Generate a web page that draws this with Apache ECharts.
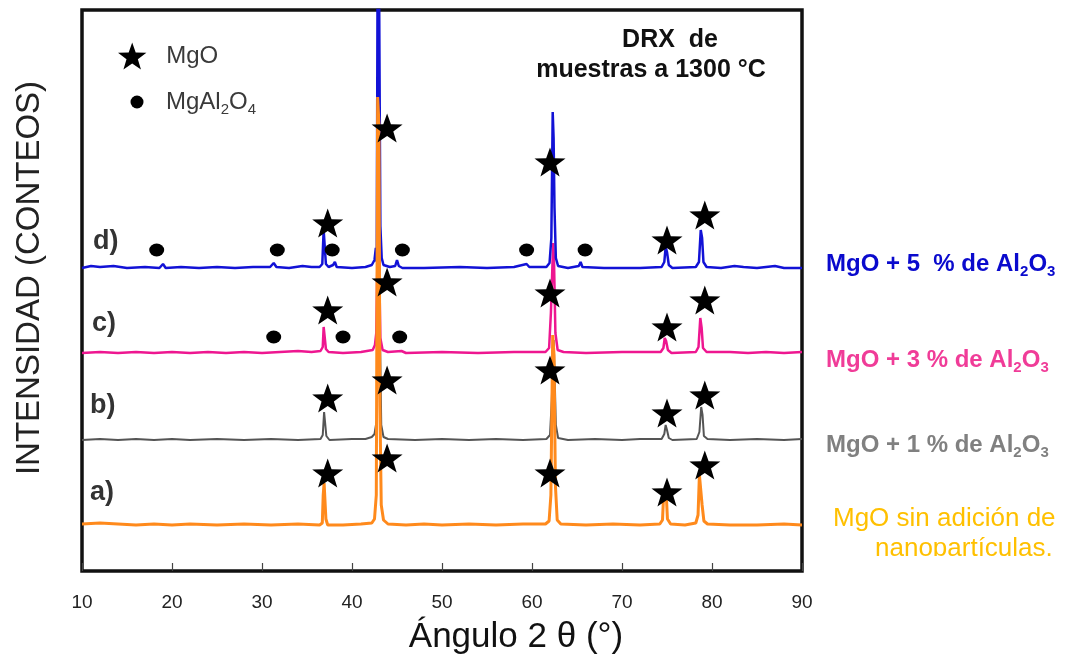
<!DOCTYPE html>
<html>
<head>
<meta charset="utf-8">
<script src="https://cdn.jsdelivr.net/npm/echarts@6/dist/echarts.min.js"></script>
<style>
html,body{margin:0;padding:0;background:#fff;}
#chart{width:1089px;height:660px;}
</style>
</head>
<body>
<div id="chart"></div>
<script>
// ---- axis ----
const xTicks = [10, 20, 30, 40, 50, 60, 70, 80, 90];
const yRange = [0, 561];

// ---- vertical offsets of each pattern (counts) ----
const traceNames = ['a) MgO', 'b) MgO + 1 %', 'c) MgO + 3 %', 'd) MgO + 5 %'];
const traceOffsets = [46, 131, 218, 303];
const traceColors = ['#FF8A1C', '#555555', '#EE1690', '#1212D6'];
const traceWidths = [3, 2, 2.5, 2.5];

// ---- patterns: [2θ, intensity above own baseline] ----
const traceA = [[10,1],[12,2],[14,1],[16,0],[18,1],[20,0],[22,1],[25,0],[28,1],[31,0],[34,1],[36.4,0],[36.7,2],[36.8,30],[36.9,42],[37.0,40],[37.1,6],[37.3,0],[39,0],[41,1],[42.2,2],[42.5,6],[42.7,30],[42.85,428],[43.0,400],[43.1,120],[43.25,20],[43.5,5],[44,1],[46,0],[48,1],[50,0],[53,1],[56,0],[59,1],[61.5,1],[61.9,4],[62.1,30],[62.3,190],[62.45,170],[62.6,40],[62.8,5],[63.2,1],[66,0],[69,1],[72,0],[74.2,1],[74.5,5],[74.65,35],[74.8,30],[74.9,34],[75.05,6],[75.4,1],[77,0],[78.2,2],[78.45,10],[78.6,50],[78.75,48],[78.9,20],[79.1,4],[79.5,1],[82,0],[85,0],[88,1],[90,0]];
const traceB = [[10,0],[12,1],[14,0],[16,1],[18,0],[20,1],[22,0],[25,1],[28,0],[31,1],[34,0],[36.5,1],[36.75,5],[36.9,28],[37.0,26],[37.15,4],[37.5,0],[40,1],[41.5,1],[42.2,3],[42.5,6],[42.75,20],[42.95,130],[43.1,110],[43.25,15],[43.5,3],[44,1],[47,0],[50,1],[53,0],[56,1],[59,0],[61.6,1],[62.0,5],[62.2,40],[62.4,100],[62.5,70],[62.65,15],[62.9,2],[64,0],[67,1],[70,0],[72,1],[74.4,1],[74.7,6],[74.85,15],[75.0,10],[75.2,2],[75.6,0],[78.3,1],[78.6,8],[78.8,33],[78.95,25],[79.1,4],[79.5,1],[82,0],[85,1],[88,0],[90,1]];
const traceC = [[10,0],[12,1],[14,0],[16,1],[18,0],[20,1],[22,0],[24,1],[26,0],[28,1],[30,0],[32,1],[34,2],[35.5,1],[36.5,2],[36.75,6],[36.85,26],[36.95,24],[37.1,4],[37.4,1],[39,0],[41,1],[42.3,3],[42.55,8],[42.7,20],[42.85,110],[43.0,100],[43.15,15],[43.4,3],[44,1],[45.5,2],[46,0],[50,1],[54,0],[58,1],[61.5,1],[61.9,5],[62.1,40],[62.35,110],[62.45,90],[62.6,20],[62.85,3],[63.5,1],[66,0],[70,1],[74.3,1],[74.6,5],[74.75,15],[74.9,12],[75.1,3],[75.5,0],[78.2,1],[78.5,6],[78.7,35],[78.85,25],[79.0,5],[79.4,1],[82,1],[84,0],[86,1],[88,0],[90,1]];
const traceD = [[10,0],[11,2],[12,1],[13.5,2],[15,0],[17,1],[18.6,0],[19.0,4],[19.3,0],[21,1],[23,0],[25,1],[27,0],[29,1],[30.9,1],[31.3,5],[31.6,1],[33,0],[34.5,2],[35.5,1],[36.4,1],[36.7,4],[36.85,38],[36.95,36],[37.1,4],[37.4,1],[37.9,3],[38.1,6],[38.3,1],[40,0],[41.5,1],[42.2,3],[42.5,8],[42.65,20],[42.75,6],[42.85,320],[43.0,300],[43.15,42],[43.3,10],[43.5,3],[44.2,1],[44.8,2],[45.0,8],[45.2,2],[45.6,0],[48,0],[52,1],[55,0],[58,1],[59.4,4],[59.7,1],[61.6,1],[61.95,5],[62.15,30],[62.3,156],[62.4,130],[62.5,60],[62.65,10],[62.9,2],[64,0],[65.2,2],[65.4,6],[65.6,1],[68,0],[72,0],[74.4,1],[74.7,6],[74.85,21],[75.0,16],[75.2,3],[75.6,0],[78.2,1],[78.55,6],[78.75,38],[78.9,30],[79.05,6],[79.4,1],[81,0],[82.5,2],[83.5,1],[85,0],[87,2],[88,0],[90,0]];
const traces = [traceA, traceB, traceC, traceD];

// ---- phase markers: [2θ, counts] ----
const mgoMarkers = [
  [37.3,348],[43.9,443],[62.0,409],[75.0,331],[79.2,356],
  [37.3,261],[43.9,289],[62.0,278],[75.0,244],[79.2,271],
  [37.3,173],[43.9,191],[62.0,201],[75.0,158],[79.2,176],
  [37.3,98],[43.9,113],[62.0,98],[75.0,79],[79.2,106]
];
const spinelMarkers = [
  [18.3,321],[31.7,321],[37.8,321],[45.6,321],[59.4,321],[65.9,321],
  [31.3,234],[39.0,234],[45.3,234]
];

const FONT = '"Liberation Sans", Arial, sans-serif';
const starPath = 'path://M0,-10 L2.35,-3.24 L9.51,-3.09 L3.8,1.24 L5.88,8.09 L0,4 L-5.88,8.09 L-3.8,1.24 L-9.51,-3.09 L-2.35,-3.24 Z';

const chart = echarts.init(document.getElementById('chart'), null, {renderer: 'canvas'});

// draw order: gray, pink, blue, orange (orange on top)
const drawOrder = [1, 2, 3, 0];
const lineSeries = drawOrder.map(i => ({
  name: traceNames[i],
  type: 'line',
  showSymbol: false,
  symbol: 'none',
  clip: true,
  animation: false,
  lineStyle: {color: traceColors[i], width: traceWidths[i]},
  itemStyle: {color: traceColors[i]},
  data: traces[i].map(p => [p[0], p[1] + traceOffsets[i]]),
  z: 2
}));

function subLabel(x, y, main, color, bold) {
  const fw = bold ? 'bold' : 'normal';
  return {
    type: 'text', x: x, y: y, z: 100,
    style: {
      text: '{b|' + main + 'Al}{s|2}{b|O}{s|3}',
      align: 'left', verticalAlign: 'middle',
      rich: {
        b: {fontSize: 24, fontWeight: fw, fontFamily: FONT, fill: color, lineHeight: 30},
        s: {fontSize: 15, fontWeight: fw, fontFamily: FONT, fill: color, lineHeight: 13, verticalAlign: 'bottom'}
      }
    }
  };
}

const option = {
  backgroundColor: '#ffffff',
  animation: false,
  grid: {left: 82, right: 287, top: 10, bottom: 89, show: true, borderColor: '#111', borderWidth: 3.5, backgroundColor: 'transparent'},
  xAxis: {
    type: 'value',
    min: xTicks[0], max: xTicks[xTicks.length - 1], interval: xTicks[1] - xTicks[0],
    axisLine: {show: false},
    axisTick: {show: true, inside: true, length: 8, lineStyle: {color: '#444', width: 1.2}},
    axisLabel: {margin: 22, fontSize: 19, color: '#222', fontFamily: FONT},
    splitLine: {show: false}
  },
  yAxis: {
    type: 'value', min: yRange[0], max: yRange[1],
    axisLine: {show: false}, axisTick: {show: false}, axisLabel: {show: false}, splitLine: {show: false}
  },
  legend: [
    {
      data: [{name: 'MgO', icon: starPath}],
      left: 113, top: 37.5, itemWidth: 30, itemHeight: 27, selectedMode: false,
      itemStyle: {color: '#000', opacity: 1},
      formatter: n => '{g|}{n|' + n + '}',
      textStyle: {rich: {g: {width: 14}, n: {fontSize: 24, color: '#3a3a3a', fontFamily: FONT, lineHeight: 28}}}
    },
    {
      data: [{name: 'MgAl2O4', icon: 'circle'}],
      left: 125.5, top: 85, itemWidth: 15, itemHeight: 13, selectedMode: false,
      itemStyle: {color: '#000', opacity: 1},
      formatter: () => '{g|}{n|MgAl}{s|2}{n|O}{s|4}',
      textStyle: {rich: {
        g: {width: 16.5},
        n: {fontSize: 24, color: '#3a3a3a', fontFamily: FONT, lineHeight: 30},
        s: {fontSize: 15, color: '#3a3a3a', fontFamily: FONT, lineHeight: 13, verticalAlign: 'bottom'}
      }}
    }
  ],
  series: lineSeries.concat([
    {
      name: 'MgO', type: 'scatter', symbol: starPath, symbolSize: [31, 29],
      itemStyle: {color: '#000', opacity: 1}, data: mgoMarkers, z: 5, animation: false
    },
    {
      name: 'MgAl2O4', type: 'scatter', symbol: 'circle', symbolSize: [15, 13],
      itemStyle: {color: '#000', opacity: 1}, data: spinelMarkers, z: 5, animation: false
    }
  ]),
  graphic: [
    {type: 'text', x: 670, y: 40, z: 100, style: {text: 'DRX  de', fontSize: 25, fontWeight: 'bold', fontFamily: FONT, fill: '#111', align: 'center', verticalAlign: 'middle'}},
    {type: 'text', x: 651, y: 70, z: 100, style: {text: 'muestras a 1300 °C', fontSize: 25, fontWeight: 'bold', fontFamily: FONT, fill: '#111', align: 'center', verticalAlign: 'middle'}},
    {type: 'text', x: 93, y: 242, z: 100, style: {text: 'd)', fontSize: 27, fontWeight: 'bold', fontFamily: FONT, fill: '#333', align: 'left', verticalAlign: 'middle'}},
    {type: 'text', x: 92, y: 324, z: 100, style: {text: 'c)', fontSize: 27, fontWeight: 'bold', fontFamily: FONT, fill: '#333', align: 'left', verticalAlign: 'middle'}},
    {type: 'text', x: 90, y: 406, z: 100, style: {text: 'b)', fontSize: 27, fontWeight: 'bold', fontFamily: FONT, fill: '#333', align: 'left', verticalAlign: 'middle'}},
    {type: 'text', x: 90, y: 493, z: 100, style: {text: 'a)', fontSize: 27, fontWeight: 'bold', fontFamily: FONT, fill: '#333', align: 'left', verticalAlign: 'middle'}},
    {type: 'text', x: 30, y: 278, rotation: Math.PI / 2, z: 100, style: {text: 'INTENSIDAD (CONTEOS)', fontSize: 33, fontFamily: FONT, fill: '#222', align: 'center', verticalAlign: 'middle'}},
    {type: 'text', x: 516, y: 637, z: 100, style: {text: 'Ángulo 2 θ (°)', fontSize: 35, fontFamily: FONT, fill: '#111', align: 'center', verticalAlign: 'middle'}},
    subLabel(826, 264, 'MgO + 5  % de ', '#0A0ACD', true),
    subLabel(826, 360, 'MgO + 3 % de ', '#F03C98', true),
    subLabel(826, 445, 'MgO + 1 % de ', '#808080', true),
    {type: 'text', x: 833, y: 519, z: 100, style: {text: 'MgO sin adición de', fontSize: 26, fontFamily: FONT, fill: '#FFC000', align: 'left', verticalAlign: 'middle'}},
    {type: 'text', x: 875, y: 549, z: 100, style: {text: 'nanopartículas.', fontSize: 26, fontFamily: FONT, fill: '#FFC000', align: 'left', verticalAlign: 'middle'}},
    {type: 'rect', z: 101, shape: {x: 815, y: 556, width: 274, height: 22}, style: {fill: '#ffffff'}}
  ]
};
chart.setOption(option);
</script>
</body>
</html>
